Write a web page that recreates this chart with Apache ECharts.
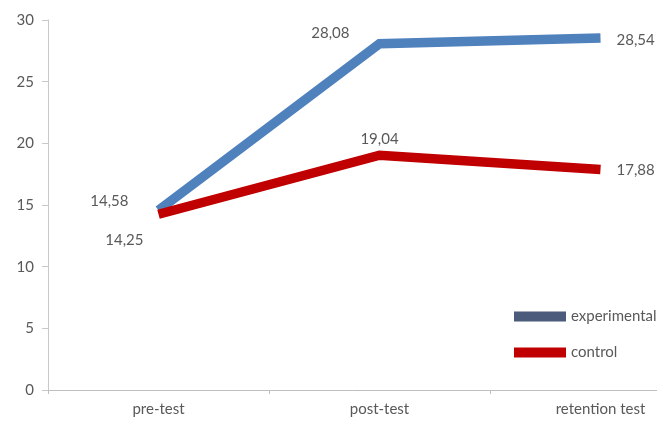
<!DOCTYPE html>
<html>
<head>
<meta charset="utf-8">
<script src="https://cdn.jsdelivr.net/npm/echarts@6/dist/echarts.min.js"></script>
<style>
  html, body { margin: 0; padding: 0; background: #fff; }
  #chart { width: 657px; height: 434px; }
</style>
</head>
<body>
<div id="chart"></div>
<script>
// data
const categories = ['pre-test', 'post-test', 'retention test'];
const experimental = [14.58, 28.08, 28.54];
const control = [14.25, 19.04, 17.88];
const yTicks = { min: 0, max: 30, interval: 5 };

const textColor = '#595959';
const font = 'Lato';
const fontSize = 15;

// label placement for each point (index matches categories)
const expLabelPos = [
  { position: 'left', distance: 30, offset: [0, -9] },
  { position: 'left', distance: 30, offset: [0, -11] },
  { position: 'right', distance: 16, offset: [0, 2] }
];
const ctlLabelPos = [
  { position: 'left', distance: 15, offset: [0, 26] },
  { position: 'top', distance: 8, offset: [0, 0] },
  { position: 'right', distance: 16, offset: [0, 1] }
];

function fmt(v) {
  return v.toFixed(2).replace('.', ',');
}

function buildData(values, pos) {
  return values.map((v, i) => ({
    value: v,
    label: {
      show: true,
      position: pos[i].position,
      distance: pos[i].distance,
      offset: pos[i].offset,
      formatter: fmt(v),
      color: textColor,
      fontFamily: font,
      fontSize: fontSize
    }
  }));
}

const myChart = echarts.init(document.getElementById('chart'));
const option = {
  animation: false,
  backgroundColor: '#fff',
  grid: {
    left: 48,
    top: 20,
    bottom: 44,
    right: -54,
    containLabel: false,
    outerBoundsMode: 'none'
  },
  legend: {
    orient: 'vertical',
    left: 509,
    top: 304,
    icon: 'rect',
    itemWidth: 52,
    itemHeight: 10,
    itemGap: 21,
    textStyle: { color: textColor, fontFamily: font, fontSize: fontSize },
    data: [
      { name: 'experimental', itemStyle: { color: '#4a5b7b' } },
      { name: 'control', itemStyle: { color: '#c00000' } }
    ]
  },
  xAxis: {
    type: 'category',
    data: categories,
    boundaryGap: true,
    axisLine: { lineStyle: { color: '#bfbfbf', width: 1 } },
    axisTick: { show: true, length: 4, lineStyle: { color: '#bfbfbf' } },
    axisLabel: { color: textColor, fontFamily: font, fontSize: fontSize, margin: 12 }
  },
  yAxis: {
    type: 'value',
    min: yTicks.min,
    max: yTicks.max,
    interval: yTicks.interval,
    splitLine: { show: false },
    axisLine: { show: true, lineStyle: { color: '#c8c8c8', width: 1 } },
    axisTick: { show: true, length: 6, lineStyle: { color: '#c8c8c8' } },
    axisLabel: { color: textColor, fontFamily: font, fontSize: fontSize, margin: 14 }
  },
  series: [
    {
      name: 'experimental',
      type: 'line',
      data: buildData(experimental, expLabelPos),
      symbol: 'circle',
      symbolSize: 0.1,
      showSymbol: true,
      lineStyle: { color: '#4f81bd', width: 9.5, cap: 'butt', join: 'miter' },
      itemStyle: { color: '#4f81bd' }
    },
    {
      name: 'control',
      type: 'line',
      data: buildData(control, ctlLabelPos),
      symbol: 'circle',
      symbolSize: 0.1,
      showSymbol: true,
      lineStyle: { color: '#c00000', width: 9.5, cap: 'butt', join: 'miter' },
      itemStyle: { color: '#c00000' }
    }
  ]
};
myChart.setOption(option, true);
</script>
</body>
</html>
